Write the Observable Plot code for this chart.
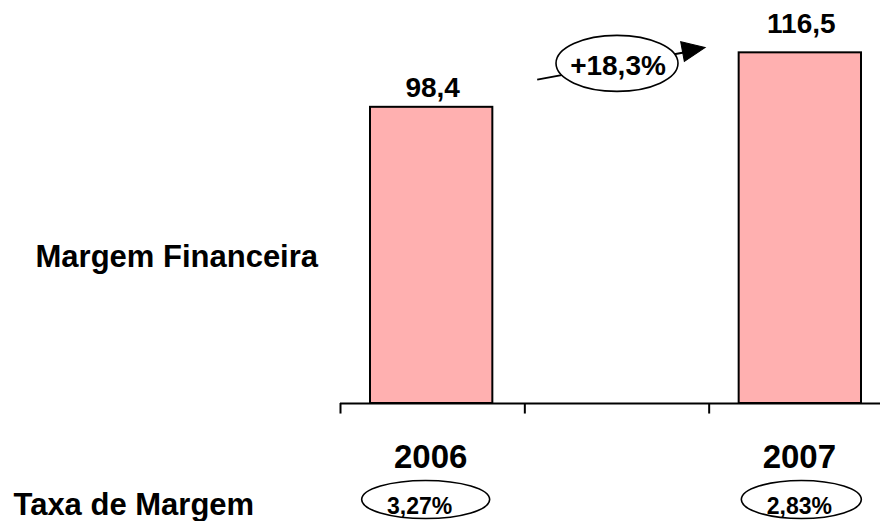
<!DOCTYPE html>
<html>
<head>
<meta charset="utf-8">
<script src="https://cdn.jsdelivr.net/npm/d3@7"></script>
<script src="https://cdn.jsdelivr.net/npm/@observablehq/plot@0.6"></script>
<style>
  html, body { margin: 0; padding: 0; background: #fff; }
  #chart svg { display: block; }
</style>
</head>
<body>
<div id="chart"></div>
<script>
// ---- data ----
const years = ["2006", "2007"];
const margem = [98.4, 116.5];
const margemLabels = ["98,4", "116,5"];
const taxa = ["3,27%", "2,83%"];
const growthLabel = "+18,3%";
const rowTitles = ["Margem Financeira", "Taxa de Margem"];
const slots = [0, 2];            // category slots (an empty slot sits between the years)
const slotEdges = [0, 1, 2, 3];  // tick positions at slot boundaries

const data = years.map((y, i) => ({year: y, slot: slots[i], value: margem[i], label: margemLabels[i], taxa: taxa[i]}));

// growth annotation (in data units)
const growth = [{x: 1.5, y: 113, label: growthLabel}];
const growthArrow = [{x1: 1.067, y1: 107.6, x2: 1.862, y2: 116.6}];
const growthTip = [{x: 1.978, y: 118.3}];

// ---- custom symbols ----
function ellipseSymbol(rx, ry) {
  const k = 0.5522847;
  return {
    draw(ctx) {
      ctx.moveTo(rx, 0);
      ctx.bezierCurveTo(rx, ry * k, rx * k, ry, 0, ry);
      ctx.bezierCurveTo(-rx * k, ry, -rx, ry * k, -rx, 0);
      ctx.bezierCurveTo(-rx, -ry * k, -rx * k, -ry, 0, -ry);
      ctx.bezierCurveTo(rx * k, -ry, rx, -ry * k, rx, 0);
      ctx.closePath();
    }
  };
}
const arrowHead = {
  draw(ctx) {
    ctx.moveTo(0, 0);
    ctx.lineTo(-23, -10);
    ctx.lineTo(-23, 10);
    ctx.closePath();
  }
};

const font = "'Liberation Sans', Arial, sans-serif";
const d0 = data.filter(d => d.year === "2006");
const d1 = data.filter(d => d.year === "2007");

const chart = Plot.plot({
  width: 880,
  height: 521,
  marginTop: 0, marginRight: 0, marginBottom: 0, marginLeft: 0,
  style: {fontFamily: font, background: "white", overflow: "visible"},
  x: {type: "linear", domain: [0, 3], range: [340, 893], axis: null},
  y: {type: "linear", domain: [0, 120], range: [403, 403 - 3.01 * 120], axis: null},
  marks: [
    // bars
    Plot.rectY(data, {x1: "slot", x2: d => d.slot + 1, y1: 0, y2: "value", insetLeft: 30, insetRight: 32,
      fill: "#ffb0b0", stroke: "black", strokeWidth: 2}),
    // baseline axis + ticks
    Plot.ruleY([0], {x1: 0, x2: 3, stroke: "black", strokeWidth: 2}),
    Plot.ruleX(slotEdges, {x: d => d, y1: 0, y2: -3.5, stroke: "black", strokeWidth: 2}),
    // value labels
    Plot.text(d0, {x: d => d.slot + 0.5, y: "value", text: "label", lineAnchor: "bottom", dy: -10,
      fontSize: 28, fontWeight: "bold", fill: "black"}),
    Plot.text(d1, {x: d => d.slot + 0.5, y: "value", text: "label", lineAnchor: "bottom", dy: -20,
      fontSize: 28, fontWeight: "bold", fill: "black"}),
    // growth arrow + ellipse
    Plot.link(growthArrow, {x1: "x1", y1: "y1", x2: "x2", y2: "y2", stroke: "black", strokeWidth: 2}),
    Plot.dot(growthTip, {x: "x", y: "y", symbol: arrowHead, fill: "black", stroke: "black", strokeWidth: 1, rotate: -10.5}),
    Plot.dot(growth, {x: "x", y: "y", symbol: ellipseSymbol(61, 28), fill: "white", stroke: "black", strokeWidth: 1.6}),
    Plot.text(growth, {x: "x", y: "y", text: "label", lineAnchor: "bottom", dy: 12, dx: 1,
      fontSize: 28, fontWeight: "bold", fill: "black"}),
    // year labels
    Plot.text(data, {x: d => d.slot + 0.5, y: 0, text: "year", lineAnchor: "bottom", dy: 64,
      fontSize: 33, fontWeight: "bold", fill: "black", dx: -2}),
    // taxa de margem ellipses + labels
    Plot.dot(d0, {x: d => d.slot + 0.5, y: 0, dy: 96, dx: -7, symbol: ellipseSymbol(64, 19), fill: "white", stroke: "black", strokeWidth: 1.6}),
    Plot.dot(d1, {x: d => d.slot + 0.5, y: 0, dy: 96, dx: 0, symbol: ellipseSymbol(60, 19), fill: "white", stroke: "black", strokeWidth: 1.6}),
    Plot.text(d0, {x: d => d.slot + 0.5, y: 0, text: "taxa", lineAnchor: "bottom", dy: 110, dx: -13,
      fontSize: 23, fontWeight: "bold", fill: "black"}),
    Plot.text(d1, {x: d => d.slot + 0.5, y: 0, text: "taxa", lineAnchor: "bottom", dy: 110, dx: -2,
      fontSize: 23, fontWeight: "bold", fill: "black"}),
    // row titles
    Plot.text([rowTitles[0]], {frameAnchor: "left", y: 0, text: d => d, textAnchor: "start", lineAnchor: "bottom",
      dx: 35, dy: -137, fontSize: 31, fontWeight: "bold", fill: "black"}),
    Plot.text([rowTitles[1]], {frameAnchor: "left", y: 0, text: d => d, textAnchor: "start", lineAnchor: "bottom",
      dx: 13, dy: 111, fontSize: 31, fontWeight: "bold", fill: "black"})
  ]
});
document.getElementById("chart").appendChild(chart);
</script>
</body>
</html>
